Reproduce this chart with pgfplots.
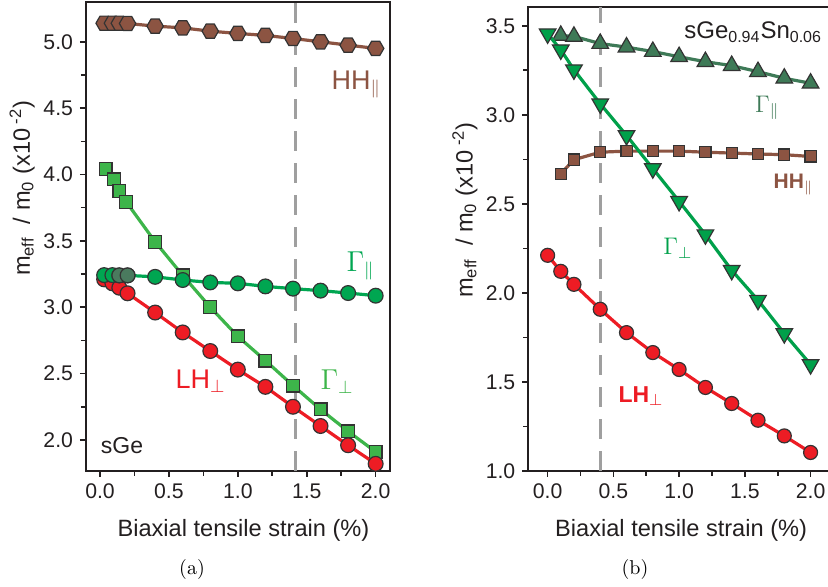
\documentclass[border=0pt]{standalone}
\usepackage{fontspec}
\setsansfont{Liberation Sans}
\usepackage{pgfplots}
\pgfplotsset{compat=1.18}

\definecolor{hhbrown}{HTML}{8C5442}
\definecolor{lhred}{HTML}{ED1C24}
\definecolor{sqgreen}{HTML}{3DB54A}
\definecolor{cgreen}{HTML}{00A651}
\definecolor{dkgreen}{HTML}{4A7A5E}
\definecolor{rgpar}{HTML}{3E7A57}
\definecolor{rgperp}{HTML}{00A04A}
\definecolor{axcol}{HTML}{231F20}

\pgfdeclareplotmark{hexagon}{%
  \pgfpathmoveto{\pgfpointpolar{0}{\pgfplotmarksize}}%
  \pgfpathlineto{\pgfpointpolar{60}{\pgfplotmarksize}}%
  \pgfpathlineto{\pgfpointpolar{120}{\pgfplotmarksize}}%
  \pgfpathlineto{\pgfpointpolar{180}{\pgfplotmarksize}}%
  \pgfpathlineto{\pgfpointpolar{240}{\pgfplotmarksize}}%
  \pgfpathlineto{\pgfpointpolar{300}{\pgfplotmarksize}}%
  \pgfpathclose
  \pgfusepathqfillstroke}

\pgfplotsset{
  myaxis/.style={
    scale only axis,
    anchor=south west,
    axis line style={line width=1pt, axcol},
    tick style={line width=0.8pt, axcol},
    tick align=outside,
    major tick length=3pt,
    minor tick length=2.5pt,
    xtick pos=bottom, ytick pos=left,
    xtick={0,0.5,1,1.5,2},
    minor x tick num=1, minor y tick num=1,
    ticklabel style={font=\sffamily\fontsize{10.6}{12}\selectfont, text=axcol},
    /pgf/number format/assume math mode=true,
    /pgf/number format/fixed,
    /pgf/number format/fixed zerofill,
    /pgf/number format/precision=1,
    label style={font=\sffamily\fontsize{11.8}{14}\selectfont, text=axcol},
    xlabel={Biaxial tensile strain (\%)},
    ylabel={m\textsubscript{eff}~ / m\textsubscript{0} (x10\textsuperscript{ -2})},
    clip mode=individual,
  },
}

\begin{document}
\begin{tikzpicture}
\useasboundingbox (0,0) rectangle (414pt,293.5pt);
\begin{scope}[overlay]
\clip (0,0) rectangle (414pt,293.5pt);
% ---------------- left panel (a)
\begin{axis}[myaxis,
  at={(43pt,58pt)}, width=152pt, height=234.5pt,
  xmin=-0.1016, xmax=2.104, ymin=1.766, ymax=5.3,
  ytick={2,2.5,3,3.5,4,4.5,5},
  xlabel style={at={(axis description cs:0.518,-0.140)}, anchor=base},
  ylabel style={at={(axis description cs:-0.21,0.603)}, anchor=center},
]
\addplot[gray!75, line width=1.5pt, dash pattern=on 10pt off 6pt] coordinates {(1.42,1.766) (1.42,5.3)};
% Gamma perp squares
\addplot[sqgreen, line width=1.6pt, mark=square*, mark size=3.2pt, mark options={fill=sqgreen, draw=black!80, line width=0.6pt}] coordinates {
(0.04,4.04)(0.1,3.963)(0.14,3.875)(0.19,3.794)(0.4,3.493)(0.6,3.24)(0.8,3.0)(1.0,2.78)(1.2,2.598)(1.4,2.41)(1.6,2.23)(1.8,2.065)(2.0,1.91)};
% LH perp
\addplot[lhred, line width=1.6pt, mark=*, mark size=3.7pt, mark options={fill=lhred, draw=black!80, line width=0.6pt}] coordinates {
(0.03,3.21)(0.09,3.18)(0.14,3.147)(0.2,3.105)(0.4,2.96)(0.6,2.81)(0.8,2.67)(1.0,2.53)(1.2,2.40)(1.4,2.25)(1.6,2.105)(1.8,1.96)(2.0,1.82)};
% Gamma parallel circles
\addplot[cgreen, line width=1.6pt, mark=*, mark size=3.7pt, mark options={fill=cgreen, draw=black!80, line width=0.6pt}] coordinates {
(0.03,3.242)(0.09,3.242)(0.14,3.24)(0.2,3.24)(0.4,3.229)(0.6,3.205)(0.8,3.187)(1.0,3.18)(1.2,3.157)(1.4,3.14)(1.6,3.125)(1.8,3.107)(2.0,3.087)};
\addplot[only marks, mark=*, mark size=3.7pt, mark options={fill=dkgreen, draw=black!80, line width=0.6pt}] coordinates {(0.14,3.24)(0.2,3.24)};
% HH parallel hexagons
\addplot[hhbrown, line width=1.6pt, mark=hexagon, mark size=4.1pt, mark options={fill=hhbrown, draw=black!80, line width=0.6pt}] coordinates {
(0.03,5.14)(0.09,5.14)(0.14,5.14)(0.2,5.138)(0.4,5.118)(0.6,5.105)(0.8,5.08)(1.0,5.063)(1.2,5.048)(1.4,5.025)(1.6,5.0)(1.8,4.975)(2.0,4.95)};
\node[text=hhbrown, font=\sffamily\fontsize{13.5}{15}\selectfont] at (axis cs:1.86,4.68) {HH$_{\parallel}$};
\node[text=cgreen, font=\fontsize{13.5}{15}\selectfont] at (axis cs:1.89,3.31) {$\Gamma_{\parallel}$};
\node[text=sqgreen, font=\fontsize{13.5}{15}\selectfont] at (axis cs:1.72,2.44) {$\Gamma_{\perp}$};
\node[text=lhred, font=\sffamily\fontsize{13.5}{15}\selectfont] at (axis cs:0.73,2.44) {LH$_{\perp}$};
\node[text=axcol, font=\sffamily\fontsize{11.5}{13}\selectfont] at (axis cs:0.16,1.96) {sGe};
\end{axis}
% ---------------- right panel (b)
\begin{axis}[myaxis,
  at={(264.15pt,58pt)}, width=151pt, height=232.15pt,
  xmin=-0.147, xmax=2.15, ymin=1.0, ymax=3.607,
  ytick={1,1.5,2,2.5,3,3.5},
  xlabel style={at={(axis description cs:0.506,-0.1415)}, anchor=base},
  ylabel style={at={(axis description cs:-0.21,0.562)}, anchor=center},
]
\addplot[gray!75, line width=1.5pt, dash pattern=on 10pt off 6pt] coordinates {(0.4,1.0) (0.4,3.607)};
% Gamma parallel up triangles
\addplot[rgpar, line width=1.6pt, mark=triangle*, mark size=4.8pt, mark options={fill=rgpar, draw=black!80, line width=0.6pt}] coordinates {
(0.1,3.445)(0.2,3.44)(0.4,3.40)(0.6,3.38)(0.8,3.355)(1.0,3.326)(1.2,3.298)(1.4,3.276)(1.6,3.242)(1.8,3.205)(2.0,3.177)};
% HH parallel squares
\addplot[hhbrown, line width=1.6pt, mark=square*, mark size=2.8pt, mark options={fill=hhbrown, draw=black!80, line width=0.6pt}] coordinates {
(0.1,2.669)(0.2,2.748)(0.4,2.79)(0.6,2.796)(0.8,2.796)(1.0,2.796)(1.2,2.79)(1.4,2.785)(1.6,2.78)(1.8,2.776)(2.0,2.766)};
% Gamma perp down triangles
\addplot[rgperp, line width=1.6pt, mark=triangle*, mark size=4.8pt, mark options={fill=rgperp, rotate=180, draw=black!80, line width=0.6pt}] coordinates {
(0,3.455)(0.1,3.365)(0.2,3.253)(0.4,3.062)(0.6,2.884)(0.8,2.698)(1.0,2.514)(1.2,2.327)(1.4,2.127)(1.6,1.959)(1.8,1.772)(2.0,1.598)};
% LH perp circles
\addplot[lhred, line width=1.6pt, mark=*, mark size=3.5pt, mark options={fill=lhred, draw=black!80, line width=0.6pt}] coordinates {
(0,2.211)(0.1,2.121)(0.2,2.048)(0.4,1.908)(0.6,1.777)(0.8,1.665)(1.0,1.570)(1.2,1.469)(1.4,1.379)(1.6,1.285)(1.8,1.197)(2.0,1.104)};
\node[text=axcol, font=\sffamily\fontsize{12}{14}\selectfont, anchor=east, inner xsep=0pt] at (axis cs:2.09,3.465) {sGe\textsubscript{0.94}Sn\textsubscript{0.06}};
\node[text=rgpar, font=\fontsize{12}{14}\selectfont] at (axis cs:1.67,3.04) {$\Gamma_{\parallel}$};
\node[text=hhbrown, font=\sffamily\bfseries\fontsize{10.5}{12}\selectfont] at (axis cs:1.87,2.61) {HH$_{\parallel}$};
\node[text=rgperp, font=\fontsize{12}{14}\selectfont] at (axis cs:0.99,2.25) {$\Gamma_{\perp}$};
\node[text=lhred, font=\sffamily\bfseries\fontsize{11.5}{13}\selectfont] at (axis cs:0.71,1.42) {LH$_{\perp}$};
\end{axis}
\node[font=\fontsize{10}{12}\selectfont] at (96pt,8.5pt) {(a)};
\node[font=\fontsize{10}{12}\selectfont] at (317.5pt,8.5pt) {(b)};
\end{scope}
\end{tikzpicture}
\end{document}
